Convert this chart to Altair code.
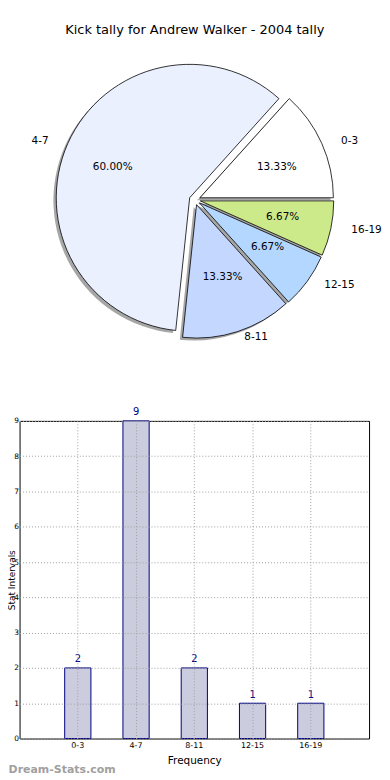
import altair as alt
import pandas as pd

# ---- data ----
cats = ["0-3", "4-7", "8-11", "12-15", "16-19"]
counts = [2, 9, 2, 1, 1]
pie_colors = ["#ffffff", "#eaf0fe", "#c4d8ff", "#b4d7ff", "#cdea8b"]
title_text = "Kick tally for Andrew Walker - 2004 tally"
x_title = "Frequency"
y_title = "Stat Intervals"
y_ticks = list(range(10))
watermark = "Dream-Stats.com"

df = pd.DataFrame({"cat": cats, "count": counts, "color": pie_colors,
                   "idx": list(range(len(cats)))})

FONT = "DejaVu Sans"
EXPLODE = 0.04
R = 134            # wedge radius in px
PW, PH = 351, 400  # pie panel size
CX, CY = 176, 191  # pie centre inside its panel
RX, RY = 141, 127

xs = alt.Scale(domain=[-1, 1], range=[CX - RX, CX + RX])
ys = alt.Scale(domain=[-1, 1], range=[CY + RY, CY - RY])

base = (
    alt.Chart(df)
    .transform_joinaggregate(total="sum(count)")
    .transform_window(cum="sum(count)", sort=[alt.SortField("idx")], frame=[None, 0])
    .transform_calculate(a1="2*PI*datum.cum/datum.total")
    .transform_calculate(a0="datum.a1 - 2*PI*datum.count/datum.total")
    .transform_calculate(mid="(datum.a0+datum.a1)/2")
    .transform_calculate(t0="PI/2 - datum.a1")
    .transform_calculate(t1="PI/2 - datum.a0")
    .transform_calculate(ex=f"{EXPLODE}*cos(datum.mid)")
    .transform_calculate(ey=f"{EXPLODE}*sin(datum.mid)")
    .transform_calculate(sx="datum.ex - 0.02")
    .transform_calculate(sy="datum.ey - 0.02")
    .transform_calculate(lx="datum.ex + 1.1*cos(datum.mid)")
    .transform_calculate(ly="datum.ey + 1.1*sin(datum.mid)")
    .transform_calculate(px="datum.ex + 0.6*cos(datum.mid)")
    .transform_calculate(py="datum.ey + 0.6*sin(datum.mid)")
    .transform_calculate(pct="format(100*datum.count/datum.total, '.2f') + '%'")
)

shadow = base.mark_arc(radius=R, fill="#4d4d4d", fillOpacity=0.5).encode(
    x=alt.X("sx:Q", scale=xs, axis=None),
    y=alt.Y("sy:Q", scale=ys, axis=None),
    theta=alt.Theta("t0:Q", scale=None),
    theta2="t1:Q",
)
wedges = base.mark_arc(radius=R, stroke="#000000", strokeWidth=0.8).encode(
    x=alt.X("ex:Q", scale=xs, axis=None),
    y=alt.Y("ey:Q", scale=ys, axis=None),
    theta=alt.Theta("t0:Q", scale=None),
    theta2="t1:Q",
    fill=alt.Fill("color:N", scale=None),
)
lab_r = base.transform_filter("datum.lx >= 0").mark_text(
    align="left", baseline="middle", fontSize=10.5, font=FONT, color="#000000"
).encode(x=alt.X("lx:Q", scale=xs, axis=None), y=alt.Y("ly:Q", scale=ys, axis=None), text="cat:N")
lab_l = base.transform_filter("datum.lx < 0").mark_text(
    align="right", baseline="middle", fontSize=10.5, font=FONT, color="#000000"
).encode(x=alt.X("lx:Q", scale=xs, axis=None), y=alt.Y("ly:Q", scale=ys, axis=None), text="cat:N")
pct = base.mark_text(
    align="center", baseline="middle", fontSize=10.5, font=FONT, color="#000000"
).encode(x=alt.X("px:Q", scale=xs, axis=None), y=alt.Y("py:Q", scale=ys, axis=None), text="pct:N")
title = alt.Chart(pd.DataFrame({"t": [title_text]})).mark_text(
    align="center", baseline="middle", fontSize=13, font=FONT, color="#000000"
).encode(text="t:N", x=alt.value(CX), y=alt.value(20))

pie = alt.layer(shadow, wedges, lab_r, lab_l, pct, title).properties(
    width=PW, height=PH, view=alt.ViewBackground(strokeOpacity=0)
)

# ---- bar chart ----
xb = alt.X(
    "cat:N", sort=cats,
    scale=alt.Scale(paddingInner=0, paddingOuter=0.5),
    axis=alt.Axis(title=x_title, labelAngle=0, labelFontSize=8, titleFontSize=10.5,
                  labelFont=FONT, titleFont=FONT, labelColor="#000000", titleColor="#000000",
                  titleFontWeight="normal", labelOverlap=False,
                  grid=True, gridDash=[1, 2], gridColor="#a0a0a0", gridWidth=1,
                  domain=False, ticks=False, labelPadding=3, titlePadding=6,
                  bandPosition=0.5, zindex=1),
)
yb = alt.Y(
    "count:Q", scale=alt.Scale(domain=[0, 9], nice=False),
    axis=alt.Axis(values=y_ticks, title=y_title, labelFontSize=7.5, titleFontSize=9,
                  labelFont=FONT, titleFont=FONT, labelColor="#000000", titleColor="#000000",
                  titleFontWeight="normal", labelOverlap=False,
                  grid=True, gridDash=[1, 2], gridColor="#a0a0a0", gridWidth=1,
                  domain=False, ticks=False, labelPadding=1,
                  titleAngle=270, titleBaseline="alphabetic", titleAlign="center",
                  titleX=-5.4, titleY=159.5, zindex=1),
)
bars = alt.Chart(df).mark_bar(
    fill="#ccccdf", stroke="#000080", strokeWidth=1, width=alt.RelativeBandSize(0.45)
).encode(x=xb, y=yb)
vals = alt.Chart(df).mark_text(
    dy=-8.5, color="#000080", fontSize=10, font=FONT, baseline="middle"
).encode(x=xb, y=yb, text="count:Q")
wm = alt.Chart(pd.DataFrame({"t": [watermark]})).mark_text(
    align="left", baseline="middle", fontSize=11, font=FONT, fontWeight="bold", color="#a0a0a0"
).encode(text="t:N", x=alt.value(-11), y=alt.value(351))

bar = alt.layer(bars, vals, wm).properties(
    width=351, height=319, view=alt.ViewBackground(stroke="#000000", strokeWidth=1)
)

chart = alt.vconcat(
    pie, bar, spacing=13, bounds="flush",
    padding={"left": -1.4, "top": 0, "right": 0, "bottom": 0},
).configure(font=FONT)

chart.save("out.html", embed_options={"renderer": "svg", "actions": False})
